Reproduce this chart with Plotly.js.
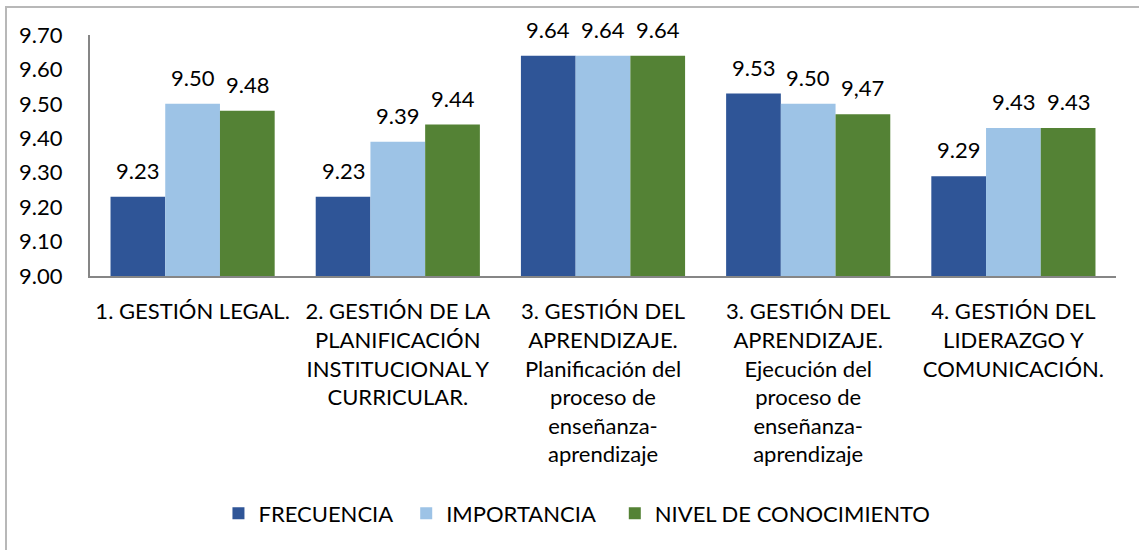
<!DOCTYPE html>
<html>
<head>
<meta charset="utf-8">
<script src="https://cdn.plot.ly/plotly-3.0.1.min.js"></script>
<style>
  html, body { margin: 0; padding: 0; background: #ffffff; }
  #wrap { position: relative; width: 1139px; height: 550px; overflow: hidden; }
  #chart { width: 1139px; height: 550px; }
  #frame { position: absolute; left: 5px; top: 6px; width: 1200px; height: 600px;
           border-left: 2px solid #B8B8B8; border-top: 2px solid #B8B8B8; pointer-events: none; }
</style>
</head>
<body>
<div id="wrap">
  <div id="chart"></div>
  <div id="frame"></div>
</div>
<script>
const categories = [
  "1. GESTIÓN LEGAL.",
  "2. GESTIÓN DE LA<br>PLANIFICACIÓN<br>INSTITUCIONAL Y<br>CURRICULAR.",
  "3. GESTIÓN DEL<br>APRENDIZAJE.<br>Planificación del<br>proceso de<br>enseñanza-<br>aprendizaje",
  "3. GESTIÓN DEL<br>APRENDIZAJE.<br>Ejecución del<br>proceso de<br>enseñanza-<br>aprendizaje",
  "4. GESTIÓN DEL<br>LIDERAZGO Y<br>COMUNICACIÓN."
];
const seriesNames = ["FRECUENCIA", "IMPORTANCIA", "NIVEL DE CONOCIMIENTO"];
const frecuencia = [9.23, 9.23, 9.64, 9.53, 9.29];
const importancia = [9.50, 9.39, 9.64, 9.50, 9.43];
const nivel = [9.48, 9.44, 9.64, 9.47, 9.43];
const frecuenciaLabels = ["9.23", "9.23", "9.64", "9.53", "9.29"];
const importanciaLabels = ["9.50", "9.39", "9.64", "9.50", "9.43"];
const nivelLabels = ["9.48", "9.44", "9.64", "9,47", "9.43"];
const yTickVals = [9.00, 9.10, 9.20, 9.30, 9.40, 9.50, 9.60, 9.70];

const colors = ["#2F5597", "#9DC3E6", "#548235"];
const FONT = "Lato, 'Open Sans', sans-serif";
const FS = 22;

const seriesValues = [frecuencia, importancia, nivel];
const seriesLabels = [frecuenciaLabels, importanciaLabels, nivelLabels];
const legendIds = ["legend", "legend2", "legend3"];
const legendX = [0.1252, 0.3082, 0.5115];

const traces = seriesValues.map((vals, i) => ({
  type: "bar",
  x: categories,
  y: vals,
  name: seriesNames[i],
  marker: { color: colors[i], line: { width: 0 } },
  legend: legendIds[i],
  hoverinfo: "x+y+name"
}));

const annotations = [];
seriesValues.forEach((vals, i) => {
  vals.forEach((v, j) => {
    annotations.push({
      x: categories[j], y: v, xref: "x", yref: "y",
      text: seriesLabels[i][j], showarrow: false,
      xanchor: "center", yanchor: "bottom",
      xshift: (i - 1) * 54.7, yshift: 11,
      font: { family: FONT, size: FS, color: "#000000" }
    });
  });
});

const legendBase = {
  orientation: "h", yanchor: "middle", y: -0.985, xanchor: "left",
  font: { family: FONT, size: FS, color: "#000000" },
  bgcolor: "rgba(0,0,0,0)", itemwidth: 30, borderwidth: 0
};

const layout = {
  width: 1139, height: 550,
  margin: { l: 90, r: 23, t: 35, b: 274 },
  paper_bgcolor: "#ffffff", plot_bgcolor: "#ffffff",
  barmode: "group", bargap: 0.2, bargroupgap: 0,
  font: { family: FONT, size: FS, color: "#000000" },
  showlegend: true,
  legend: Object.assign({}, legendBase, { x: legendX[0] }),
  legend2: Object.assign({}, legendBase, { x: legendX[1] }),
  legend3: Object.assign({}, legendBase, { x: legendX[2] }),
  xaxis: {
    type: "category", showline: true, linecolor: "#868686", linewidth: 2,
    ticks: "", showgrid: false, zeroline: false, tickangle: 0,
    ticklabelstandoff: 15,
    tickfont: { family: FONT, size: FS, color: "#000000" }
  },
  yaxis: {
    range: [9.0, 9.7], tickvals: yTickVals, tickformat: ".2f",
    showline: true, linecolor: "#868686", linewidth: 2,
    ticks: "", showgrid: false, zeroline: false,
    ticklabelstandoff: 21,
    tickfont: { family: FONT, size: FS, color: "#000000" }
  },
  annotations: annotations
};

Plotly.newPlot("chart", traces, layout, { displayModeBar: false, staticPlot: true });
</script>
</body>
</html>
